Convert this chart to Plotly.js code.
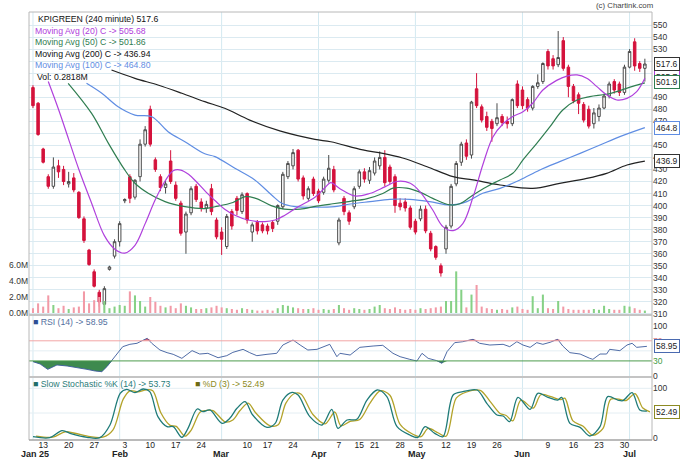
<!DOCTYPE html>
<html><head><meta charset="utf-8">
<script src="https://cdn.plot.ly/plotly-3.0.1.min.js"></script>
<style>html,body{margin:0;padding:0;background:#fff}#chart{width:680px;height:460px}</style>
</head><body><div id="chart"></div>
<script>
// ---------- DATA (one candle per trading session index) ----------
const openP  = [498,485,447,424,416,433,430,418,423,411,389,363,345,328,318,347,358,370,404,424,407,424,451,480,438,424,415,437,417,402,378,394,416,403,398,414,388,378,366,395,406,395,410,378,386,384,383,386,387,399,424,433,446,423,406,422,412,411,421,430,369,406,394,399,416,428,421,427,433,440,432,424,402,403,398,387,389,397,377,366,350,364,383,418,436,452,442,497,482,474,470,468,474,470,468,501,496,488,481,499,503,528,522,517,537,515,499,492,484,480,468,474,481,491,503,501,494,515,536,518,514];
const highP  = [500,486,448,426,440,438,433,428,427,412,391,364,347,330,333,350,372,387,406,426,422,455,466,483,440,426,421,446,420,404,395,416,418,406,404,418,390,382,393,397,408,411,411,386,388,386,385,388,401,428,437,447,447,425,416,424,414,424,442,433,390,408,396,416,430,431,432,440,445,446,434,426,406,406,400,389,400,400,379,367,352,384,418,437,453,455,487,510,484,478,472,485,476,474,489,504,499,490,500,509,519,530,525,545,540,517,501,494,486,483,481,484,493,503,505,503,517,530,539,520,522];
const lowP   = [481,458,435,414,414,423,417,415,411,389,369,350,332,316,313,346,356,366,402,402,405,420,449,449,428,412,410,418,404,375,360,392,403,395,394,392,372,359,364,380,392,393,385,370,376,377,376,378,384,397,422,430,420,405,404,408,402,409,419,411,367,392,384,397,414,419,418,425,430,416,418,394,396,395,380,376,387,377,362,355,341,360,381,416,433,438,439,481,469,462,453,466,466,464,466,481,480,478,479,497,501,513,513,515,512,490,485,476,469,464,464,470,480,489,493,491,492,514,512,511,503];
const closeP = [483,459,436,416,432,428,420,420,413,390,371,351,333,320,331,349,370,385,405,406,421,451,463,451,430,415,418,420,406,377,393,414,405,398,401,395,374,372,391,383,396,409,388,384,379,379,379,381,400,426,435,444,422,408,414,410,404,422,431,413,388,395,387,414,428,422,429,437,440,419,420,400,399,398,382,378,397,379,364,357,344,382,416,435,451,441,486,483,471,465,464,473,469,468,488,483,483,481,499,502,518,516,516,523,514,499,487,485,471,466,477,481,491,501,496,494,515,528,516,514,517.6];
const volumeM = [0.6,1.2,0.8,2.2,1.0,0.6,0.9,0.5,0.7,0.8,2.7,1.2,1.6,2.0,1.5,0.6,0.8,1.0,0.9,2.7,2.2,1.5,0.8,2.0,1.4,0.9,0.7,0.9,0.6,1.2,0.9,0.7,0.5,0.5,0.6,0.7,0.9,0.7,0.6,0.5,0.4,0.6,0.5,0.4,0.3,0.3,0.4,0.3,0.6,1.0,0.9,0.7,0.6,0.5,0.5,0.6,0.4,0.5,0.4,0.5,1.0,0.6,0.4,0.6,0.5,0.4,0.5,0.8,1.0,0.6,0.5,0.7,0.5,0.4,0.5,0.4,0.6,0.5,0.6,0.7,0.8,1.5,1.5,5.2,2.9,0.7,2.3,3.5,0.8,0.6,0.5,0.4,0.5,0.4,0.7,0.8,0.5,0.4,2.1,0.6,2.3,0.6,0.5,1.5,0.8,0.5,0.4,0.4,0.4,0.4,0.5,0.4,0.9,0.5,0.4,0.4,0.9,0.8,0.6,0.4,0.3];

// moving averages (session index, value)
const ma20X = [3,5,7,9,11.5,14,16,18,20,22,24,26,27.5,29,30.5,32,34,36,37.6,39.6,42.2,45.5,47.5,49.4,52,55.3,57.3,58.4,60.2,63.1,66,69,71.3,74,76,78.4,80.4,82.4,84.3,86.3,88.3,90.2,92.2,94.1,96.1,98,100,102.7,104.7,106.7,108.6,110.6,112.5,114.5,116.5,118.4,120];
const ma20V = [503,480,455,430,402,375,364,360.5,367,385,405,421,429,429.5,426,420,411,403,397,392,388,386.7,388,392,399,407,415,419,414,408,410,415.5,420,418.5,411,396.3,382.5,379.2,385,407,435,457,468,474,478,485,496,504,507.5,508.5,505.7,498.8,492,487.7,489,494.6,505.68];
const ma50X = [6.9,11.5,14.8,18,20,22.6,25.9,29.8,33.7,35.7,39.2,41.6,43.7,46.7,49.3,52.4,55.6,58.8,62.2,65.4,68.6,70.6,73.3,76,78.4,81.8,83.7,86.3,89,91.6,94.1,96.1,98.8,101.4,103.9,106.7,109.2,112.5,115.1,117.6,120];
const ma50V = [501.6,476.6,451.7,429.6,418.5,410.2,403.3,399.1,397.5,399,402.5,407.5,406,400,397,397,399.5,401.5,403.5,405.5,410,414.5,414.5,411,406,400.5,401.5,408.8,415.7,421.3,426.8,437.9,451.7,465.6,479.4,487.7,490.5,492.5,495.5,499,501.86];
const ma100X = [10.5,13.5,16.7,20,23.3,26.5,29.8,33.7,35.7,39.6,43.5,46.8,48.8,51.4,55.3,59.2,62.2,66.1,70,73.9,77.8,81.8,85.1,88.2,91.6,95.5,99.4,103.3,107.3,111.2,115.1,120];
const ma100V = [501.6,493.3,482.1,475.2,473.8,461.4,453.1,443,440.7,431,421.3,408.8,401.9,399.1,398.6,399.1,401.3,403.3,405.2,405.2,403.3,400.5,403.3,410.2,414.3,421.3,429.6,436.5,443.4,450.3,457.3,464.8];
const ma200X = [15.4,20,24.5,29.2,33.7,37.6,42.5,48.4,55.3,58.4,64.7,68.6,72.5,77.3,82.4,86.3,91.6,98,103.3,108.6,112.5,116.5,120];
const ma200V = [512.6,505.7,500.2,493.3,486.3,480.8,471,462,455,453,446.2,443.4,439.5,432.3,424,421.3,417.1,414.3,418.5,422.6,426.8,433.7,436.94];

// RSI (14)
const rsiX = [0,1.4,2.9,4.7,6.7,8.6,10.6,12.2,13.5,14.5,15.5,16.5,17.6,19,20.4,21.4,22.4,23.3,24.9,26.3,27.5,29.2,31.2,32.7,34.3,36.3,38,39.2,41.2,42.5,43.9,45.9,47.8,49,51,52.4,53.9,55.7,58.2,59.6,60.2,62.2,64.1,66.7,68.6,70.6,72,73.9,75.3,76.3,77.5,79.2,80.2,81.2,82.7,84.3,86.3,87.6,89.6,92.2,93.5,94.9,96.1,97.5,98.8,100,101.4,102.9,103.9,105.3,107.3,109.2,109.8,111.2,112.5,113.1,115.1,116.5,117.5,118.4,120.4];
const rsiV = [28.5,23.9,13.2,21.9,19.9,17.2,13.2,9.9,8.6,18.6,31.8,45.1,58.3,63,65,70.2,74.9,65,51.7,46.4,43.1,35.1,50.4,43.7,45.1,36.4,40.4,47,53,46.4,40.4,43.1,45.1,61.6,71.6,61.6,51.7,53,63,38.4,45.1,41.7,57,59.6,61,45.1,38.4,33.1,29.8,45.1,35.1,30.5,25.2,48.4,66.3,68.2,72.9,65,61.6,63,58.3,68.2,61.6,57,66.3,63,67,72.9,59.6,46.4,43.7,35.1,33.1,43.7,43.7,53,50.4,61.6,65,57,58.95];

// Slow stochastic %K (14) and %D (3)
const stochX = [0,3.3,5.7,7.6,10.6,13.1,15.1,17.1,18.4,20,21.6,22.9,24.5,26.3,27.5,29.2,30.4,32.2,33.3,34.7,37.1,38.6,40,41.6,43.1,45.9,47.5,49,50.8,52,54.3,56.7,58.6,59.8,61.6,63.5,65.5,67.5,69.4,71.4,73.9,75.5,76.9,78.8,80.4,82.4,84.3,87.1,89,91,92.2,93.5,95.1,97.5,99,101,102.9,103.7,105.3,107.3,109.2,111.2,112.7,114.7,115.7,117.5,119,120.4];
const stochK = [2,0,14.2,7.5,0.7,0,25.7,89.8,97.9,91.2,98.6,93.2,42.6,22.3,22.3,0.7,19,58.1,52.7,56.1,29,39.2,59.5,73,46,21,29,76.3,91.8,86.4,42.6,25.7,57.4,19,35.8,37.2,76.3,96.6,83.1,22.3,5.4,0.7,22.3,8.8,2,86.4,93.2,96.6,69.6,46,43.9,32.5,81.7,57.4,89.8,81.7,76.3,81.7,29,21,3.4,22.3,83.1,76.3,75,91.2,56.1,53.73];
const stochD = [3,1,12,9,2,1,16,78,95,93,97,95,50,25,23,3,15,52,55,55,32,36,55,70,50,24,26,70,90,88,47,28,52,24,33,37,70,95,86,27,7,2,19,10,3,80,92,96,74,49,45,34,76,60,87,83,77,80,34,23,5,19,78,77,75,89,60,52.49];

// axis labels (labels hidden behind the value boxes in the reference are blank)
const priceTicks = [310,320,330,340,350,360,370,380,390,400,410,420,430,440,450,460,470,480,490,500,510,520,530,540,550];
const priceTickText = ['310','320','330','340','350','360','370','380','390','400','410','420','430','440','450','','470','480','490','','','','530','540','550'];
const volTicks = [0,2,4,6];
const volTickText = ['0.0M','2.0M','4.0M','6.0M'];
const dayTickIdx  = [2,7,12,18,23,28,33,42,46,51,60,64,67,72,76,81,86,91,101,106,111,116];
const dayTickText = ['13','20','27','3','10','17','24','10','17','24','7','15','21','28','5','12','19','26','9','16','23','30'];
const monthIdx  = [0.3,17.2,37,56,75.3,96,117];
const monthText = ['Jan 25','Feb','Mar','Apr','May','Jun','Jul'];
const monthGridIdx = [0,17,37,56,75,96,117];

// ---------- CHART ----------
const FONT = 'Liberation Sans, Arial, sans-serif';
const W=680,H=460,ML=29,MR=28,MT=12,MB=20,PW=W-ML-MR,PH=H-MT-MB;
const px = x => (x-ML)/PW, py = y => (H-MB-y)/PH;
const idx = openP.map((_, i) => i);
const C20='#b040dc', C50='#2f7d50', C100='#5f8de3', C200='#222222';

const traces = [
  {type:'candlestick', x:idx, open:openP, high:highP, low:lowP, close:closeP, xaxis:'x', yaxis:'y',
   increasing:{line:{color:'#4a4a4a',width:1}, fillcolor:'#ffffff'},
   decreasing:{line:{color:'#d4123c',width:1}, fillcolor:'#d4123c'},
   whiskerwidth:0, hoverinfo:'skip'},
  {type:'bar', x:idx, y:volumeM, xaxis:'x', yaxis:'y2', width:0.4,
   marker:{color:idx.map(i => closeP[i] >= openP[i] ? '#86d186' : '#f29aa7'), line:{width:0}}, hoverinfo:'skip'},
  {type:'scatter', mode:'lines', x:ma200X, y:ma200V, line:{color:C200,width:1.2,shape:'spline'}, hoverinfo:'skip'},
  {type:'scatter', mode:'lines', x:ma100X, y:ma100V, line:{color:C100,width:1.2,shape:'spline'}, hoverinfo:'skip'},
  {type:'scatter', mode:'lines', x:ma50X, y:ma50V, line:{color:C50,width:1.2,shape:'spline'}, hoverinfo:'skip'},
  {type:'scatter', mode:'lines', x:ma20X, y:ma20V, line:{color:C20,width:1.2,shape:'spline'}, hoverinfo:'skip'},
  // RSI fills
  {type:'scatter', mode:'lines', x:rsiX, y:rsiX.map(()=>30), yaxis:'y3', line:{width:0}, hoverinfo:'skip'},
  {type:'scatter', mode:'lines', x:rsiX, y:rsiV.map(v=>Math.min(v,30)), yaxis:'y3', line:{width:0}, fill:'tonexty', fillcolor:'#3e8a4e', hoverinfo:'skip'},
  {type:'scatter', mode:'lines', x:rsiX, y:rsiX.map(()=>70), yaxis:'y3', line:{width:0}, hoverinfo:'skip'},
  {type:'scatter', mode:'lines', x:rsiX, y:rsiV.map(v=>Math.max(v,70)), yaxis:'y3', line:{width:0}, fill:'tonexty', fillcolor:'#e35d6f', hoverinfo:'skip'},
  {type:'scatter', mode:'lines', x:rsiX, y:rsiV, yaxis:'y3', line:{color:'#3b5a9c',width:0.9}, hoverinfo:'skip'},
  // stochastic
  {type:'scatter', mode:'lines', x:stochX.map(v=>v+0.6), y:stochD, yaxis:'y4', line:{color:'#b3a32a',width:1.3,shape:'spline',smoothing:0.9}, hoverinfo:'skip'},
  {type:'scatter', mode:'lines', x:stochX, y:stochK, yaxis:'y4', line:{color:'#1f7b78',width:1.3,shape:'spline',smoothing:0.9}, hoverinfo:'skip'}
];

const shapes = [];
monthGridIdx.forEach(m => shapes.push({type:'line', xref:'x', yref:'paper', x0:m, x1:m, y0:0, y1:1, layer:'below', line:{color:'#d3e9f1', width:1}}));
shapes.push({type:'line', xref:'paper', yref:'y3', x0:0, x1:1, y0:70, y1:70, line:{color:'#f2a5a5', width:1}});
shapes.push({type:'line', xref:'paper', yref:'y3', x0:0, x1:1, y0:30, y1:30, line:{color:'#4c9c4c', width:1}});
[50].forEach(v => shapes.push({type:'line', xref:'paper', yref:'y3', x0:0, x1:1, y0:v, y1:v, layer:'below', line:{color:'#e4eef3', width:1}}));
[50,100].forEach(v => shapes.push({type:'line', xref:'paper', yref:'y4', x0:0, x1:1, y0:v, y1:v, layer:'below', line:{color:'#e4eef3', width:1}}));
shapes.push({type:'rect', xref:'paper', yref:'paper', x0:0, x1:1, y0:0, y1:1, line:{color:'#b8b8b8', width:1}});
shapes.push({type:'line', xref:'paper', yref:'paper', x0:0, x1:1, y0:py(315), y1:py(315), line:{color:'#c4c4c4', width:2}});
shapes.push({type:'line', xref:'paper', yref:'paper', x0:0, x1:1, y0:py(377), y1:py(377), line:{color:'#c4c4c4', width:2}});
shapes.push({type:'line', xref:'paper', yref:'paper', x0:0, x1:1, y0:0, y1:0, line:{color:'#999', width:1}});

const ann = [];
function txt(x, y, t, color, size, extra) {
  ann.push(Object.assign({xref:'paper', yref:'paper', x:px(x), y:py(y), text:t, showarrow:false,
    xanchor:'left', yanchor:'middle', font:{family:FONT, size:size||8.7, color:color}}, extra||{}));
}
txt(35.5, 19.3, 'KPIGREEN (240 minute) 517.6', '#111');
txt(32.5, 31, 'Moving Avg (20) C -&gt; 505.68', C20);
txt(32.5, 42.3, 'Moving Avg (50) C -&gt; 501.86', C50);
txt(32.5, 53.7, 'Moving Avg (200) C -&gt; 436.94', '#111');
txt(32.5, 65.3, 'Moving Avg (100) C -&gt; 464.80', C100);
txt(35, 76.7, 'Vol: 0.2818M', '#111');
txt(655, 5.5, '(c) Chartink.com', '#444', 7.8, {xanchor:'right'});
txt(31, 322, '<span style="color:#2c4f95">■</span> RSI (14) -&gt; 58.95', '#53709e');
txt(31, 383.5, '<span style="color:#1f6e6b">■</span> Slow Stochastic %K (14) -&gt; 53.73', '#2a7c79');
txt(193, 383.5, '<span style="color:#6e6a12">■</span> %D (3) -&gt; 52.49', '#8c8a22');

function box(yref, val, label, color, yshift) {
  ann.push({xref:'paper', yref:yref, x:1, y:val, xanchor:'left', yanchor:'middle', xshift:2, yshift:yshift||0,
    text:label, showarrow:false, bgcolor:'#ffffff', bordercolor:color, borderwidth:1, borderpad:1,
    font:{family:FONT, size:8.5, color:'#222'}});
}
box('y', 505.68, '505.7', C20, 1);
box('y', 501.86, '501.9', C50, 1);
box('y', 517.6, '517.6', '#333');
box('y', 464.8, '464.8', C100);
box('y', 436.94, '436.9', '#333');
box('y3', 58.95, '58.95', '#4a6ab0');
box('y4', 52.49, '52.49', '#8c8a22');

monthIdx.forEach((m, k) => ann.push({xref:'x', yref:'paper', x:m, y:py(454), text:'<b>'+monthText[k]+'</b>',
  showarrow:false, xanchor:'center', yanchor:'middle', font:{family:FONT, size:9, color:'#222'}}));

const layout = {
  width:W, height:H, margin:{l:ML, r:MR, t:MT, b:MB, pad:0},
  paper_bgcolor:'#fff', plot_bgcolor:'#fff', showlegend:false, hovermode:false, dragmode:false,
  font:{family:FONT, size:8.5, color:'#333'},
  xaxis:{domain:[0,1], anchor:'y4', range:[-0.78,121.4], tickvals:dayTickIdx, ticktext:dayTickText, ticks:'',
    ticklabelstandoff:-2,
    showgrid:false, zeroline:false, showline:false, rangeslider:{visible:false}, fixedrange:true,
    tickfont:{family:FONT, size:8.5, color:'#222'}},
  yaxis:{domain:[py(315),1], range:[309.1,560.8], side:'right', tickvals:priceTicks, ticktext:priceTickText, ticks:'', showgrid:true,
    gridcolor:'#dbeaf1', zeroline:false, showline:false, fixedrange:true, tickfont:{family:FONT, size:8.5, color:'#333'}},
  yaxis2:{overlaying:'y', side:'left', range:[-0.25,37.6], tickvals:volTicks, ticktext:volTickText, ticks:'',
    showgrid:false, zeroline:false, showline:false, fixedrange:true, tickfont:{family:FONT, size:8.5, color:'#333'}},
  yaxis3:{domain:[py(377),py(315)], range:[-2,121.3], side:'right', anchor:'x', tickvals:[0,30,70,100],
    ticktext:['0','<span style="color:#3f9a3f">30</span>','<span style="color:#e58a8a">70</span>','100'], ticks:'',
    showgrid:false, zeroline:false, showline:false, fixedrange:true, tickfont:{family:FONT, size:8.5, color:'#333'}},
  yaxis4:{domain:[0,py(377)], range:[-4.66,122.9], side:'right', anchor:'x', tickvals:[0,100], ticks:'',
    showgrid:false, zeroline:false, showline:false, fixedrange:true, tickfont:{family:FONT, size:8.5, color:'#333'}},
  shapes:shapes, annotations:ann
};
Plotly.newPlot('chart', traces, layout, {staticPlot:true, displayModeBar:false});
</script>
</body></html>
